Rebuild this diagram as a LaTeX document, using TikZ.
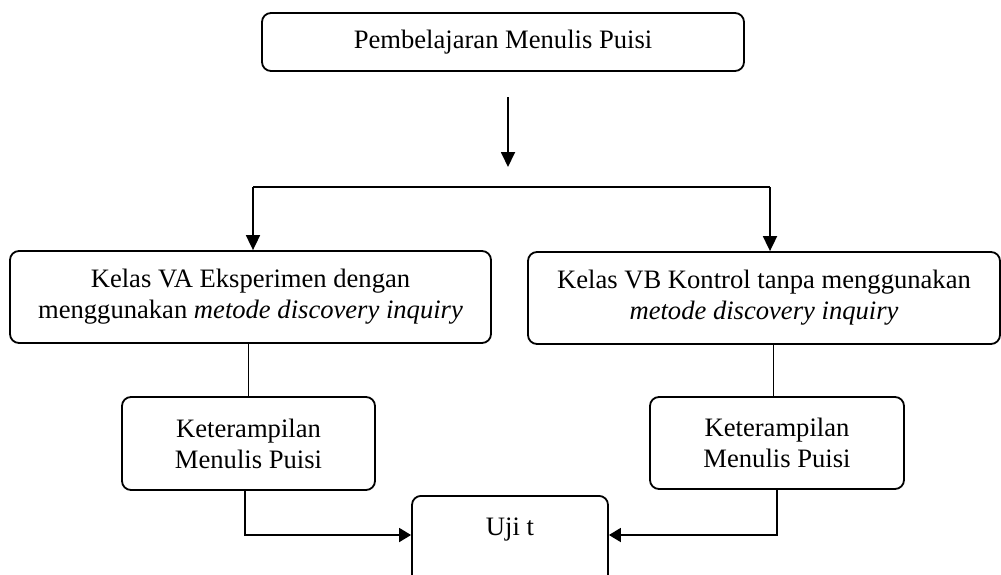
\documentclass[tikz,border=0pt]{standalone}
\usepackage{fontspec}
\setmainfont{Liberation Serif}
\usetikzlibrary{arrows.meta,calc}
\begin{document}
\begin{tikzpicture}[x=1pt,y=-1pt,
  box/.style={draw,line width=1.8pt,rounded corners=9pt,inner sep=0pt,align=center,
    font=\fontsize{26.6}{31}\selectfont},
  thick line/.style={line width=1.8pt},
  thin line/.style={line width=1pt},
  arr/.style={line width=1.8pt,-{Triangle[length=15pt,width=14pt]}},
  arrs/.style={line width=1.8pt,-{Triangle[length=12pt,width=14pt]}}]
\useasboundingbox (0,0) rectangle (1001,574);
\node[box,minimum width=482pt,minimum height=58pt] (top) at (503,42) {Pembelajaran Menulis Puisi};
\node[box,minimum width=481pt,minimum height=92pt] (va) at (250.5,297) {Kelas VA Eksperimen dengan\\menggunakan \textit{metode discovery inquiry}};
\node[box,minimum width=472pt,minimum height=92pt] (vb) at (764,298) {Kelas VB Kontrol tanpa menggunakan\\\textit{metode discovery inquiry}};
\node[box,minimum width=253pt,minimum height=93pt] (ka) at (248.5,443.5) {Keterampilan\\Menulis Puisi};
\node[box,minimum width=254pt,minimum height=92pt] (kb) at (777,443) {Keterampilan\\Menulis Puisi};
\begin{scope}
\clip (0,0) rectangle (1001,574);
\node[box,minimum width=196pt,anchor=north,text height=18pt,text depth=45pt,inner ysep=22pt] (uji) at (510,495) {Uji t};
\end{scope}
% connectors
\coordinate (a1) at (508,97);
\coordinate (a2) at (508,167);
\coordinate (hl) at (253,187);
\coordinate (hr) at (770,187);
\draw[arr] (a1) -- (a2);
\draw[thick line] (hl) -- (hr);
\draw[arr] (hl) -- (hl |- va.north);
\draw[arr] (hr) -- (hr |- vb.north);
\draw[thin line] (248,343) -- (248,397);
\draw[thin line] (773,344) -- (773,397);
\draw[arrs] (245,490) |- (uji.west |- 0,535);
\draw[arrs] (777,489) |- (uji.east |- 0,535);
\end{tikzpicture}
\end{document}
